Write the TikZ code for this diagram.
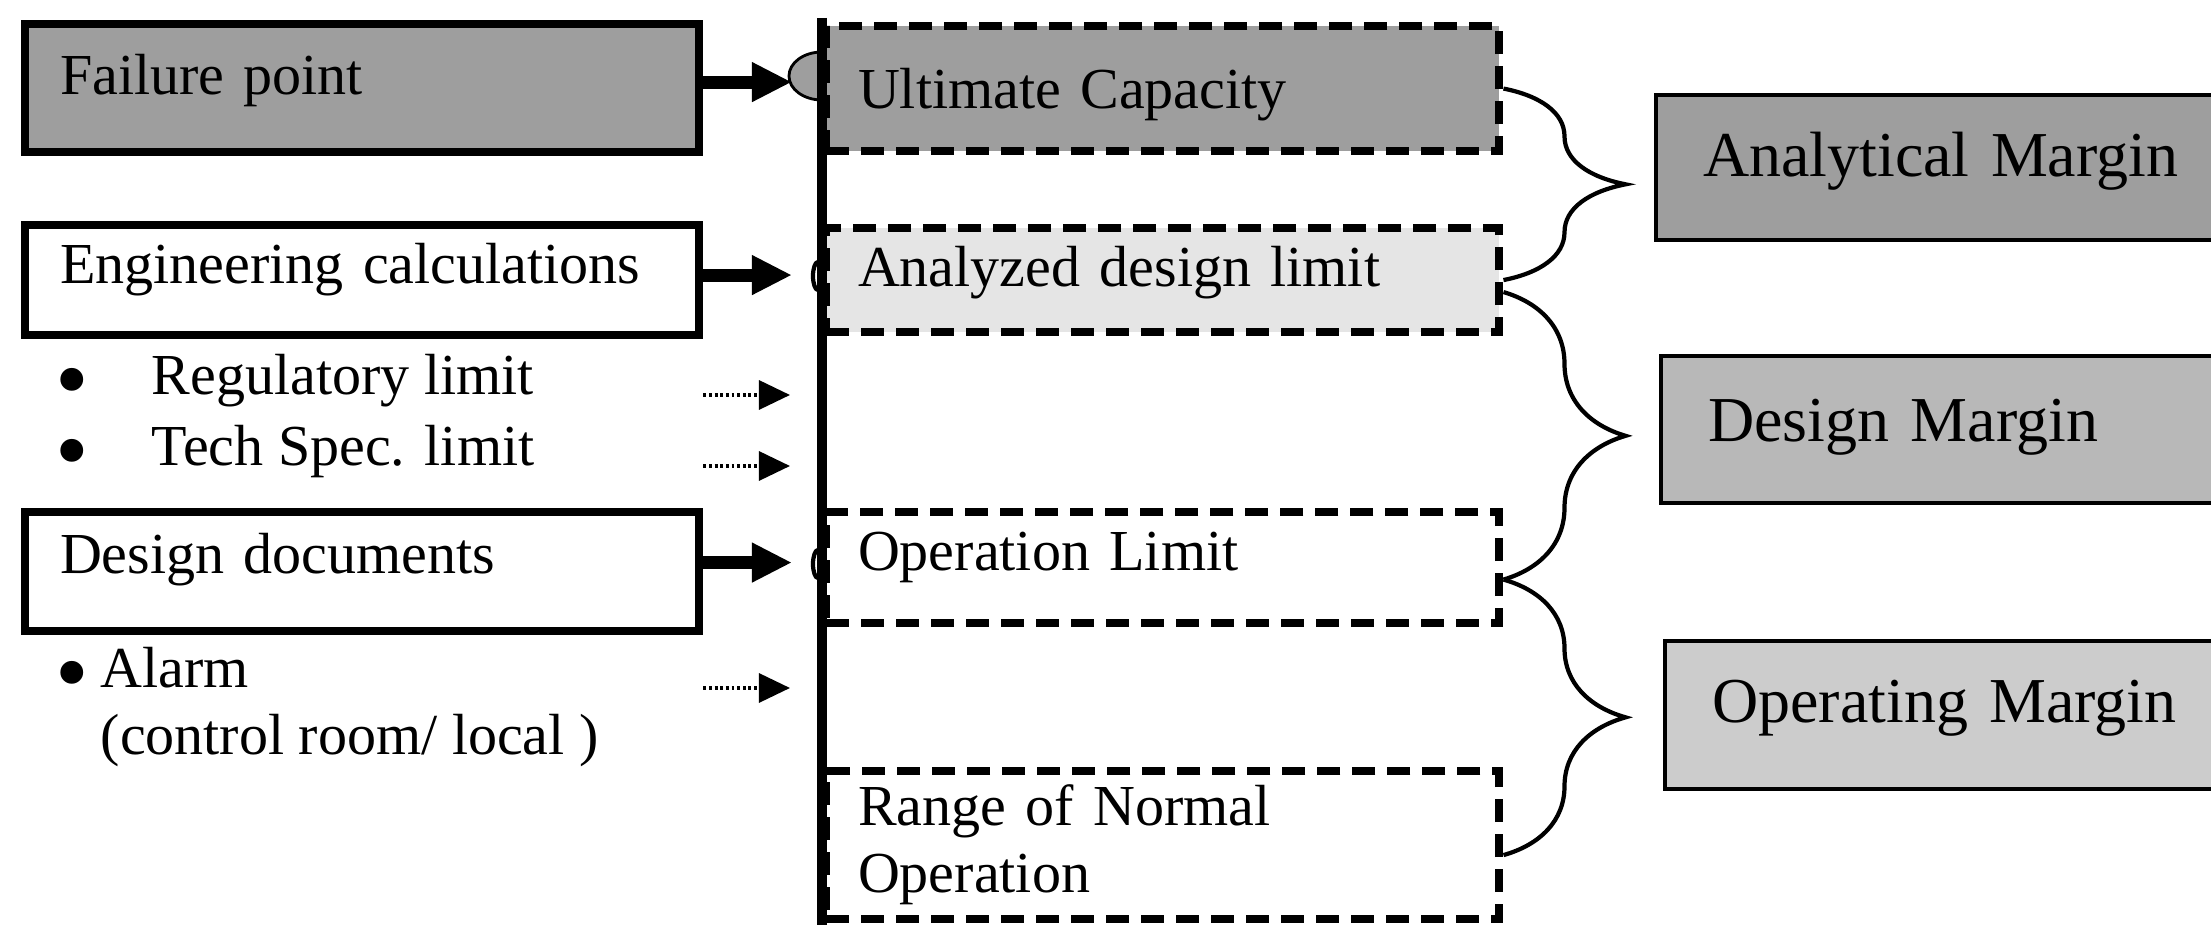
\documentclass[tikz,border=0pt]{standalone}
\usepackage{fontspec}
\setmainfont{Liberation Serif}
\usetikzlibrary{positioning,arrows.meta,decorations.pathreplacing}

\definecolor{darkshade}{gray}{0.62}
\definecolor{midshade}{gray}{0.72}
\definecolor{lightshade}{gray}{0.80}
\definecolor{paleshade}{gray}{0.90}
\newcommand{\listdot}{\raisebox{-0.16cm}{\scalebox{1.65}{\textbullet}}}

\begin{document}
\begin{tikzpicture}[x=0.01cm,y=-0.01cm,srcbox/.style={draw,line width=2.3pt,anchor=north west,inner xsep=0.35cm,inner ysep=0pt,text width=6.04cm,align=left,font=\fontsize{16.5}{19.1}\selectfont},limbox/.style={draw,line width=2.3pt,dash pattern=on 0.23cm off 0.12cm,anchor=north west,inner xsep=0.32cm,inner ysep=0pt,text width=6.09cm,align=left,font=\fontsize{16.5}{19.1}\selectfont},marbox/.style={draw,line width=1.2pt,anchor=north west,inner xsep=0.47cm,inner ysep=0pt,text width=5cm,align=left,font=\fontsize{18.2}{21}\selectfont},note/.style={anchor=base west,inner sep=0pt,font=\fontsize{16.5}{19.1}\selectfont},thickarr/.style={line width=3.7pt,-{Triangle[length=0.4cm,width=0.37cm]},shorten >=0.3cm},dotarr/.style={line width=0.9pt,dash pattern=on 0.8pt off 0.8pt,-{Triangle[length=0.31cm,width=0.29cm]},shorten >=0.32cm},brc/.style={line width=1.2pt,decorate,decoration={brace,amplitude=1.22cm}}]
\useasboundingbox (0,0) rectangle (2211,925);
% sources on the left
\node[srcbox,fill=darkshade,text height=0.70cm,text depth=0.58cm] (fail) at (21,20) {Failure point};
\node[srcbox,text height=0.58cm,text depth=0.52cm] (eng) at (21,221) {Engineering calculations};
\node[srcbox,text height=0.61cm,text depth=0.58cm] (des) at (21,508) {Design documents};
\node[note] (reg) at (55,395) {\makebox[0.96cm][l]{\listdot}Regulatory limit};
\node[note] (tsl) at (55,466) {\makebox[0.96cm][l]{\listdot}Tech Spec. limit};
\node[note] (alm) at (55,688) {\makebox[0.45cm][l]{\listdot}Alarm};
\node[note] (almsub) at (100,755) {(control room/ local )};
% limits
\node[limbox,fill=darkshade,text height=0.82cm,text depth=0.43cm] (ult) at (822,22) {Ultimate Capacity};
\node[limbox,fill=paleshade,text height=0.58cm,text depth=0.46cm] (ana) at (822,224) {Analyzed design limit};
\node[limbox,text height=0.58cm,text depth=0.53cm] (opl) at (822,508) {Operation Limit};
\node[limbox,minimum height=1.48cm] (rng) at (822,767) {Range of Normal\\Operation};
% margins
\node[marbox,fill=darkshade,text height=0.81cm,text depth=0.64cm] (anm) at (1654,93) {Analytical Margin};
\node[marbox,fill=midshade,text height=0.85cm,text depth=0.62cm] (dsm) at (1659,354) {Design Margin};
\node[marbox,fill=lightshade,text height=0.81cm,text depth=0.67cm] (opm) at (1663,639) {Operating Margin};
% scale line
\coordinate (axtop) at (822,18);
\coordinate (axbot) at (822,930);
\filldraw[fill=darkshade,draw=black,line width=0.8pt] (822,52) arc[start angle=90,end angle=270,x radius=0.33cm,y radius=0.24cm] -- cycle;
\draw[line width=2.6pt] (axtop) -- (axbot);
\draw[line width=1.2pt] (818,262) arc[start angle=90,end angle=270,x radius=0.05cm,y radius=0.14cm];
\draw[line width=1.2pt] (818,550) arc[start angle=90,end angle=270,x radius=0.05cm,y radius=0.14cm];
% arrows
\draw[thickarr] ([yshift=0.06cm]fail.east) -- ([yshift=0.06cm]fail.east -| axtop);
\draw[thickarr] ([yshift=0.05cm]eng.east) -- ([yshift=0.05cm]eng.east -| axtop);
\draw[thickarr] ([yshift=0.09cm]des.east) -- ([yshift=0.09cm]des.east -| axtop);
\draw[dotarr] (reg.base -| fail.east) -- (reg.base -| axtop);
\draw[dotarr] (tsl.base -| fail.east) -- (tsl.base -| axtop);
\draw[dotarr] (alm.base -| fail.east) -- (alm.base -| axtop);
% braces
\draw[brc] (ult.east) -- (ana.east);
\draw[brc] ([yshift=-0.12cm]ana.east) -- ([yshift=-0.12cm]opl.east);
\draw[brc] ([yshift=-0.12cm]opl.east) -- ([yshift=-0.1cm]rng.east);
\end{tikzpicture}
\end{document}
